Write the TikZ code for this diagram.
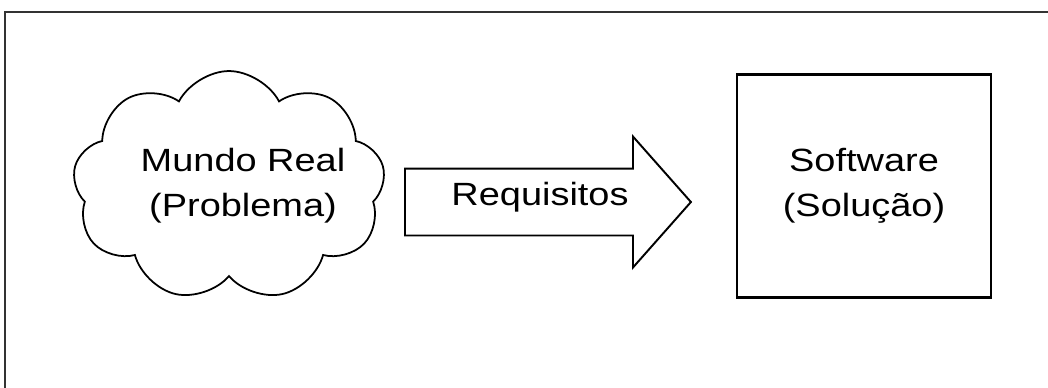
\documentclass[tikz,border=0pt]{standalone}
\usepackage{fontspec}
\setmainfont{Liberation Sans}[FakeStretch=1.18]
\usepackage{tikz}
\usetikzlibrary{positioning,shapes.symbols,shapes.arrows}

\tikzset{
  frame/.style={draw=black!80, line width=1.4pt},
  nuvem/.style={cloud, cloud puffs=9, cloud puff arc=125, cloud ignores aspect,
    draw, line width=1pt, minimum width=6.25cm, minimum height=4.6cm},
  seta/.style={single arrow, draw, line width=1.1pt, single arrow head extend=0.64cm,
    single arrow tip angle=97, minimum height=5.72cm, inner sep=0pt, text height=0.8cm,
    text depth=0.5cm, shape border rotate=0},
  caixa/.style={draw, line width=1.4pt, minimum width=5.08cm, minimum height=4.46cm},
  rotulo/.style={align=center, font=\fontsize{18.3}{25.6}\selectfont}
}

\begin{document}
\begin{tikzpicture}[x=0.02cm, y=-0.02cm]
\useasboundingbox (0,0) rectangle (1048,387);
\clip (0,0) rectangle (1048,387);
% moldura
\draw[frame] (5,400) -- (5,12) -- (1060,12);
% problema
\node[nuvem] (mundo) at (229,186) {};
\node[rotulo] (mundotxt) at (243,186) {Mundo Real\\(Problema)};
% requisitos
\node[seta, anchor=tail] (req) at (404,202) {};
\node[rotulo] (reqtxt) at (540,197) {Requisitos};
% solucao
\node[caixa, rotulo] (soft) at (864,186) {Software\\(Solução)};
\end{tikzpicture}
\end{document}
